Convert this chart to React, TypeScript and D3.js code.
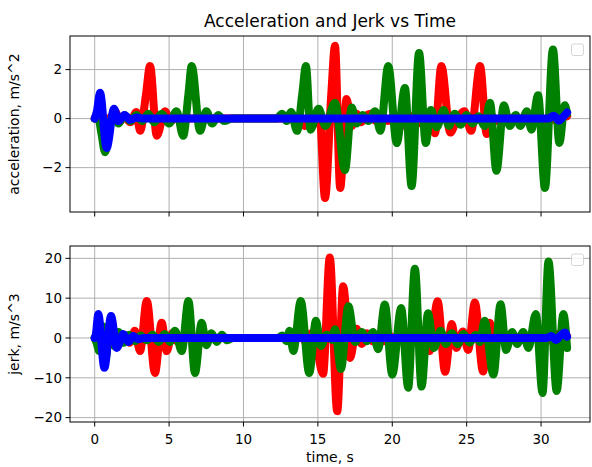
import React from 'react';
import * as d3 from 'd3';

type Pt = [number, number];

const timeTicks = [0, 5, 10, 15, 20, 25, 30];
const accTicks = [-2, 0, 2];
const jerkTicks = [-20, -10, 0, 10, 20];

// acceleration (m/s^2) keypoints [time s, value]
const accRed: Pt[] = [
  [0, 0], [1.0, 0], [1.37, 0.3], [1.7, -0.1], [2.0, 0.1], [2.4, -0.15], [2.8, 0.27], [3.05, -0.5],
  [3.45, 1.0], [3.72, 2.15], [4.17, -0.7], [4.72, 0.3], [5.1, -0.1], [5.5, 0.05], [6.0, 0],
  [13.8, 0], [14.1, -0.3], [14.45, 0.15], [14.8, -0.2], [15.1, 0.3], [15.48, -3.24], [15.9, 1.0],
  [16.15, 2.97], [16.5, -2.83], [16.93, 0.8], [17.27, -0.3], [17.6, 0.2], [17.9, -0.15], [18.2, 0.1],
  [18.5, 0.2], [18.9, -0.1], [19.3, 0.1], [19.7, -0.1], [20.1, 0.1], [20.5, -0.15], [20.9, -0.3],
  [21.3, 0.1], [21.7, -0.2], [22.1, 0.1], [22.5, 0.2], [22.87, -0.6], [23.3, 2.15], [23.9, -0.57],
  [24.3, -0.1], [24.85, 0.3], [25.3, -0.5], [25.9, 2.15], [26.35, -0.63], [26.7, 0.1], [27.0, -0.1],
  [27.5, 0.05], [28.0, 0], [29.8, 0], [30.3, -0.25], [30.65, 0.2], [31.0, -0.1], [31.3, 0.25], [31.75, 0.1],
];
const accGreen: Pt[] = [
  [0, 0], [0.2, 0.15], [0.45, -0.6], [0.7, -1.37], [1.0, -0.3], [1.3, 0.25], [1.6, -0.2], [2.0, 0.15],
  [2.4, -0.1], [2.8, 0.15], [3.2, -0.1], [3.6, 0.2], [4.0, -0.15], [4.5, 0.2], [5.0, -0.2], [5.5, 0.3],
  [5.95, -0.7], [6.3, 1.0], [6.52, 2.15], [7.08, -0.5], [7.5, 0.3], [7.9, -0.2], [8.3, 0.15], [8.7, -0.1],
  [9.2, 0], [12.2, 0], [12.6, 0.2], [12.9, -0.1], [13.2, 0.27], [13.6, -0.5], [13.95, 1.0], [14.2, 2.15],
  [14.5, -0.45], [15.05, 0.4], [15.5, -0.3], [16.15, 0.65], [16.82, -2.1], [17.27, 0.45], [17.6, -0.2],
  [18.0, 0.15], [18.4, -0.1], [18.85, 0.3], [19.2, -0.5], [19.73, 2.15], [20.3, -1.0], [20.85, 1.25],
  [21.3, -2.75], [21.8, 2.68], [22.25, -0.99], [22.6, 0.35], [23.0, -0.35], [23.45, 0.35], [23.8, -0.3],
  [24.2, 0.2], [24.6, -0.25], [25.0, 0.15], [25.4, -0.2], [25.8, 0.1], [26.2, -0.3], [26.57, 0.65],
  [27.0, -2.13], [27.5, 0.55], [27.9, -0.3], [28.3, 0.15], [28.6, -0.3], [29.05, 0.3], [29.35, -0.45],
  [29.8, 0.95], [30.26, -2.83], [30.8, 2.82], [31.23, -0.99], [31.6, 0.55], [31.75, 0.2],
];
const accBlue: Pt[] = [
  [0, 0], [0.15, 0.3], [0.36, 1.05], [0.8, -1.2], [1.3, 0.4], [1.6, -0.1], [2.0, 0.15], [2.4, -0.05],
  [2.8, 0.05], [3.2, 0], [30.5, 0], [30.85, 0.12], [31.2, -0.08], [31.45, 0.05], [31.75, 0.25],
];

// jerk (m/s^3) keypoints [time s, value]
const jerkRed: Pt[] = [
  [0, 0], [1.0, 0], [1.35, 1.2], [1.65, -0.8], [2.0, 0.8], [2.35, -1.2], [2.7, 1.8], [3.05, -3.3],
  [3.5, 9.3], [4.05, -8.8], [4.5, 3.85], [4.84, -3.3], [5.2, 1.2], [5.5, -0.8], [5.9, 0.3], [6.3, 0],
  [13.6, 0], [13.9, 1.0], [14.2, -1.2], [14.55, 1.2], [14.9, -2.0], [15.35, -9.0], [15.8, 20.2],
  [16.3, -18.4], [16.7, 13.0], [17.16, -5.0], [17.6, 2.3], [17.95, -1.5], [18.3, 1.2], [18.65, -0.8],
  [19.0, 0.8], [19.4, -0.8], [19.8, 0.6], [20.2, -0.6], [20.6, 0.6], [21.0, -0.8], [21.4, 0.8],
  [21.8, -1.0], [22.2, 1.0], [22.5, -3.3], [23.05, 9.2], [23.55, -8.5], [24.0, 3.5], [24.3, -2.5],
  [24.75, 1.6], [25.1, -3.0], [25.55, 8.9], [26.1, -8.4], [26.55, 3.85], [26.9, -1.5], [27.3, 1.0],
  [27.7, -0.6], [28.1, 0.3], [28.5, 0], [29.9, 0], [30.2, -1.5], [30.5, 1.5], [30.8, -1.0], [31.1, 1.0],
  [31.4, -0.8], [31.75, 0.5],
];
const jerkGreen: Pt[] = [
  [0, 0], [0.15, -1.5], [0.3, -3.3], [0.5, 3.0], [0.75, -5.0], [1.0, 3.5], [1.3, -2.0], [1.6, 1.5],
  [1.95, -1.2], [2.3, 0.8], [2.7, -0.8], [3.1, 0.6], [3.5, -0.6], [3.9, 0.8], [4.3, -1.0], [4.7, 1.0],
  [5.05, -1.0], [5.4, 1.8], [5.85, -3.3], [6.3, 9.3], [6.74, -8.8], [7.19, 3.85], [7.5, -1.8],
  [7.85, 1.2], [8.2, -1.0], [8.55, 0.8], [8.9, -0.6], [9.3, 0], [12.3, 0], [12.6, 0.6], [12.9, -0.8],
  [13.1, 1.8], [13.35, -3.3], [13.85, 9.3], [14.42, -8.8], [14.87, 4.3], [15.2, -2.0], [15.6, 0.8],
  [15.95, -0.5], [16.15, 2.2], [16.55, -7.8], [17.05, 8.0], [17.5, -1.0], [17.95, 1.5], [18.3, -0.8],
  [18.7, 1.5], [19.05, -2.8], [19.5, 8.4], [20.0, -9.2], [20.6, 7.5], [21.07, -12.5], [21.52, 17.4],
  [21.97, -12.2], [22.4, 6.2], [22.8, -2.5], [23.25, 1.8], [23.6, -1.5], [24.0, 1.2], [24.4, -1.5],
  [24.8, 1.0], [25.2, -1.2], [25.6, 0.8], [25.9, -1.0], [26.2, 4.3], [26.8, -9.2], [27.28, 8.5],
  [27.65, -3.0], [28.05, 1.5], [28.4, -1.5], [28.8, 1.5], [29.15, -2.5], [29.65, 6.0], [30.1, -13.8],
  [30.5, 19.2], [31.05, -13.3], [31.5, 6.0], [31.75, -2.5],
];
const jerkBlue: Pt[] = [
  [0, 0], [0.08, 1.0], [0.24, 6.0], [0.65, -7.5], [1.1, 5.5], [1.48, -2.5], [1.92, 1.0], [2.26, -1.0],
  [2.6, 0.5], [2.9, -0.3], [3.3, 0], [30.4, 0], [30.7, 0.5], [31.0, -0.5], [31.3, 0.6], [31.6, 1.4],
  [31.75, 0.3],
];

const FONT = 'DejaVu Sans, sans-serif';
const L = 70, R = 590;
const TICK_FS = 13.5;
const LABEL_FS = 14;
const fmt = (v: number) => (v < 0 ? '\u2212' + Math.abs(v) : String(v));

function Panel({ top, bottom, domain, ticks, series, label, showX }: {
  top: number; bottom: number; domain: [number, number]; ticks: number[];
  series: { data: Pt[]; color: string }[]; label: string; showX: boolean;
}) {
  const x = d3.scaleLinear().domain([-1.66, 33.29]).range([L, R]);
  const y = d3.scaleLinear().domain(domain).range([bottom, top]);
  const line = d3.line<Pt>().x(d => x(d[0])).y(d => y(d[1])).curve(d3.curveMonotoneX);
  const mid = (top + bottom) / 2;
  return (
    <g>
      {timeTicks.map(t => (
        <line key={'gx' + t} x1={x(t)} x2={x(t)} y1={top} y2={bottom} stroke="#b0b0b0" strokeWidth={1} />
      ))}
      {ticks.map(v => (
        <line key={'gy' + v} x1={L} x2={R} y1={y(v)} y2={y(v)} stroke="#b0b0b0" strokeWidth={1} />
      ))}
      {series.map((s, i) => (
        <path key={i} d={line(s.data) || ''} fill="none" stroke={s.color} strokeWidth={8}
          strokeLinejoin="round" strokeLinecap="round" />
      ))}
      <rect x={L} y={top} width={R - L} height={bottom - top} fill="none" stroke="#000" strokeWidth={1} />
      {timeTicks.map(t => (
        <g key={'tx' + t}>
          <line x1={x(t)} x2={x(t)} y1={bottom} y2={bottom + 4.5} stroke="#000" strokeWidth={1} />
          {showX && (
            <text x={x(t)} y={bottom + 22} textAnchor="middle" fontSize={TICK_FS} fontFamily={FONT} fill="#000">{fmt(t)}</text>
          )}
        </g>
      ))}
      {ticks.map(v => (
        <g key={'ty' + v}>
          <line x1={L - 4.5} x2={L} y1={y(v)} y2={y(v)} stroke="#000" strokeWidth={1} />
          <text x={L - 8} y={y(v)} dy="0.36em" textAnchor="end" fontSize={TICK_FS} fontFamily={FONT} fill="#000">{fmt(v)}</text>
        </g>
      ))}
      <text transform={`translate(19,${mid}) rotate(-90)`} textAnchor="middle" fontSize={LABEL_FS} fontFamily={FONT} fill="#000">{label}</text>
      <rect x={571.5} y={top + 8} width={12} height={11.5} rx={2} fill="#fff" fillOpacity={0.8} stroke="#cccccc" strokeOpacity={0.8} strokeWidth={1} />
    </g>
  );
}

export default function App() {
  return (
    <svg width={592} height={467} style={{ position: 'absolute', left: 0, top: 0, background: '#fff' }}>
      <rect width={592} height={467} fill="#fff" />
      <text x={330} y={27} textAnchor="middle" fontSize={17} fontFamily={FONT} fill="#000">Acceleration and Jerk vs Time</text>
      <Panel top={36} bottom={212} domain={[-3.81, 3.37]} ticks={accTicks} label="acceleration, m/s^2" showX={false}
        series={[{ data: accRed, color: '#ff0000' }, { data: accGreen, color: '#008000' }, { data: accBlue, color: '#0000ff' }]} />
      <Panel top={246} bottom={422} domain={[-21.1, 23.1]} ticks={jerkTicks} label="jerk, m/s^3" showX={true}
        series={[{ data: jerkRed, color: '#ff0000' }, { data: jerkGreen, color: '#008000' }, { data: jerkBlue, color: '#0000ff' }]} />
      <text x={330} y={462} textAnchor="middle" fontSize={LABEL_FS} fontFamily={FONT} fill="#000">time, s</text>
    </svg>
  );
}
